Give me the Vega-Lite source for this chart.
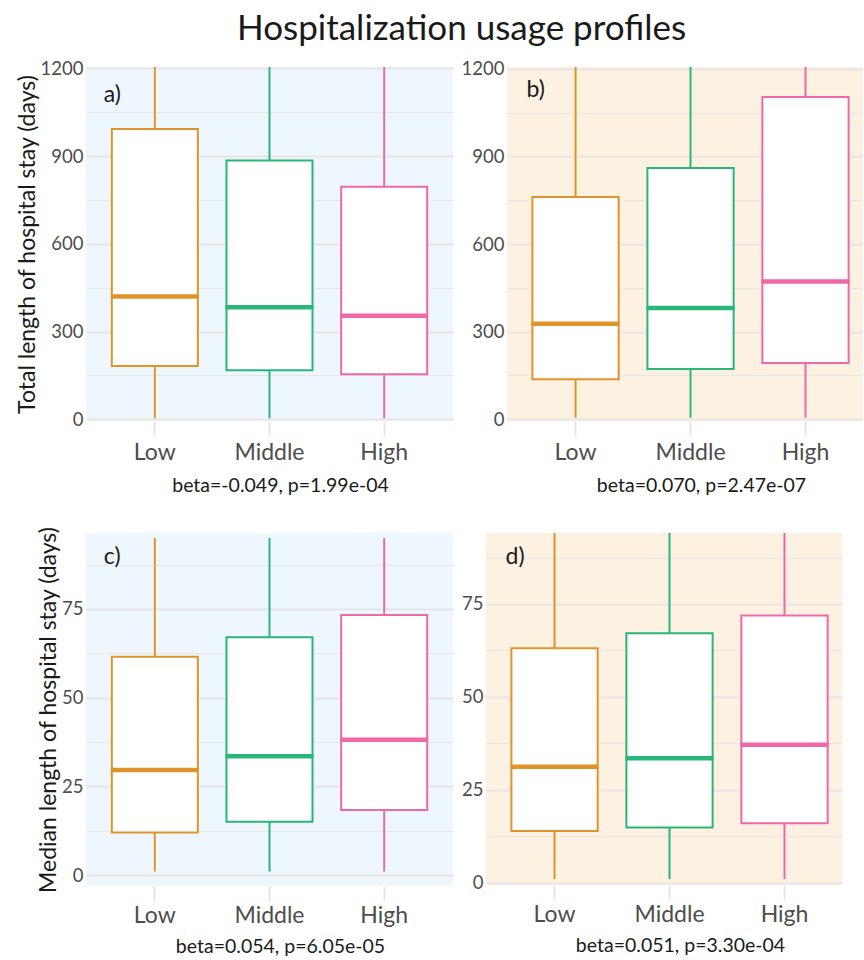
{
  "$schema": "https://vega.github.io/schema/vega-lite/v6.json",
  "padding": {"left": 16, "top": 12, "right": 0, "bottom": 0},
  "title": {"text": "Hospitalization usage profiles", "fontSize": 35, "fontWeight": "normal", "color": "#1a1a1a", "anchor": "middle", "offset": 12, "dx": 22},
  "datasets": {
    "boxes": [
      {"panel": "a", "tag": "a)", "group": "Low", "lower": 3, "q1": 182, "median": 420, "q3": 993, "upper": 1205},
      {"panel": "a", "tag": "a)", "group": "Middle", "lower": 3, "q1": 168, "median": 383, "q3": 885, "upper": 1205},
      {"panel": "a", "tag": "a)", "group": "High", "lower": 3, "q1": 154, "median": 354, "q3": 795, "upper": 1205},
      {"panel": "b", "tag": "b)", "group": "Low", "lower": 5, "q1": 137, "median": 327, "q3": 761, "upper": 1206},
      {"panel": "b", "tag": "b)", "group": "Middle", "lower": 5, "q1": 172, "median": 381, "q3": 860, "upper": 1206},
      {"panel": "b", "tag": "b)", "group": "High", "lower": 5, "q1": 193, "median": 472, "q3": 1103, "upper": 1206},
      {"panel": "c", "tag": "c)", "group": "Low", "lower": 1, "q1": 12.0, "median": 29.6, "q3": 61.5, "upper": 95},
      {"panel": "c", "tag": "c)", "group": "Middle", "lower": 1, "q1": 15.0, "median": 33.5, "q3": 67.0, "upper": 95},
      {"panel": "c", "tag": "c)", "group": "High", "lower": 1, "q1": 18.3, "median": 38.1, "q3": 73.3, "upper": 95},
      {"panel": "d", "tag": "d)", "group": "Low", "lower": 1, "q1": 13.9, "median": 31.2, "q3": 63.1, "upper": 95},
      {"panel": "d", "tag": "d)", "group": "Middle", "lower": 1, "q1": 14.9, "median": 33.5, "q3": 67.1, "upper": 95},
      {"panel": "d", "tag": "d)", "group": "High", "lower": 1, "q1": 16.0, "median": 37.1, "q3": 71.9, "upper": 95}
    ]
  },
  "vconcat": [
    {
      "hconcat": [
        {
          "width": 367, "height": 354,
          "view": {"fill": "#EEF7FD", "stroke": null},
          "data": {"name": "boxes"},
          "transform": [{"filter": "datum.panel === 'a'"}],
          "encoding": {
            "x": {"field": "group", "type": "nominal", "sort": ["Low", "Middle", "High"],
                  "scale": {"paddingInner": 0, "paddingOuter": 0.1, "align": 0.5},
                  "axis": {"title": "beta=-0.049, p=1.99e-04"}}
          },
          "layer": [
            {"mark": {"type": "rule", "strokeWidth": 2, "clip": true},
             "encoding": {
               "y": {"field": "lower", "type": "quantitative",
                     "scale": {"domain": [-6, 1205], "nice": false, "zero": false},
                     "axis": {"values": [0, 150, 300, 450, 600, 750, 900, 1050, 1200], "format": "d",
                              "labelExpr": "datum.value % 300 === 0 ? datum.label : ''",
                              "gridWidth": {"condition": {"test": "datum.value % 300 === 0", "value": 2.2}, "value": 1.2},
                              "title": "Total length of hospital stay (days)"}},
               "y2": {"field": "upper"},
               "color": {"field": "group", "type": "nominal", "scale": {"domain": ["Low", "Middle", "High"], "range": ["#DF9429", "#2AB57B", "#EE69A7"]}, "legend": null}
             }},
            {"mark": {"type": "bar", "fill": "white", "strokeWidth": 2, "width": {"band": 0.75}},
             "encoding": {
               "y": {"field": "q1", "type": "quantitative"},
               "y2": {"field": "q3"},
               "stroke": {"field": "group", "type": "nominal", "scale": {"domain": ["Low", "Middle", "High"], "range": ["#DF9429", "#2AB57B", "#EE69A7"]}, "legend": null}
             }},
            {"mark": {"type": "tick", "thickness": 4.5, "size": 88, "opacity": 1},
             "encoding": {
               "y": {"field": "median", "type": "quantitative"},
               "color": {"field": "group", "type": "nominal", "legend": null}
             }},
            {"transform": [{"filter": "datum.group === 'Low'"}],
             "mark": {"type": "text", "fontSize": 23, "color": "#1a1a1a", "align": "left", "baseline": "middle", "dx": -51},
             "encoding": {
               "x": {"datum": "Low"},
               "y": {"datum": 1109, "type": "quantitative"},
               "text": {"field": "tag"}
             }}
          ]
        },
        {
          "width": 356, "height": 354,
          "view": {"fill": "#FDF1E1", "stroke": null},
          "data": {"name": "boxes"},
          "transform": [{"filter": "datum.panel === 'b'"}],
          "encoding": {
            "x": {"field": "group", "type": "nominal", "sort": ["Low", "Middle", "High"],
                  "scale": {"paddingInner": 0, "paddingOuter": 0.048, "align": 1},
                  "axis": {"title": "beta=0.070, p=2.47e-07"}}
          },
          "layer": [
            {"mark": {"type": "rule", "strokeWidth": 2, "clip": true},
             "encoding": {
               "y": {"field": "lower", "type": "quantitative",
                     "scale": {"domain": [-6, 1206], "nice": false, "zero": false},
                     "axis": {"values": [0, 150, 300, 450, 600, 750, 900, 1050, 1200], "format": "d",
                              "labelExpr": "datum.value % 300 === 0 ? datum.label : ''",
                              "gridWidth": {"condition": {"test": "datum.value % 300 === 0", "value": 2.2}, "value": 1.2},
                              "title": null}},
               "y2": {"field": "upper"},
               "color": {"field": "group", "type": "nominal", "legend": null}
             }},
            {"mark": {"type": "bar", "fill": "white", "strokeWidth": 2, "width": {"band": 0.75}},
             "encoding": {
               "y": {"field": "q1", "type": "quantitative"},
               "y2": {"field": "q3"},
               "stroke": {"field": "group", "type": "nominal", "legend": null}
             }},
            {"mark": {"type": "tick", "thickness": 4.5, "size": 88, "opacity": 1},
             "encoding": {
               "y": {"field": "median", "type": "quantitative"},
               "color": {"field": "group", "type": "nominal", "legend": null}
             }},
            {"transform": [{"filter": "datum.group === 'Low'"}],
             "mark": {"type": "text", "fontSize": 23, "color": "#1a1a1a", "align": "left", "baseline": "middle", "dx": -49},
             "encoding": {
               "x": {"datum": "Low"},
               "y": {"datum": 1128, "type": "quantitative"},
               "text": {"field": "tag"}
             }}
          ]
        }
      ],
      "spacing": 8
    },
    {
      "hconcat": [
        {
          "width": 367, "height": 353,
          "view": {"fill": "#EEF7FD", "stroke": null},
          "data": {"name": "boxes"},
          "transform": [{"filter": "datum.panel === 'c'"}],
          "encoding": {
            "x": {"field": "group", "type": "nominal", "sort": ["Low", "Middle", "High"],
                  "scale": {"paddingInner": 0, "paddingOuter": 0.1, "align": 0.5},
                  "axis": {"title": "beta=0.054, p=6.05e-05", "labelPadding": 3, "titlePadding": 10}}
          },
          "layer": [
            {"mark": {"type": "rule", "strokeWidth": 2, "clip": true},
             "encoding": {
               "y": {"field": "lower", "type": "quantitative",
                     "scale": {"domain": [-3.1, 96.4], "nice": false, "zero": false},
                     "axis": {"values": [0, 12.5, 25, 37.5, 50, 62.5, 75, 87.5], "format": "d",
                              "labelExpr": "datum.value % 25 === 0 ? datum.label : ''",
                              "gridWidth": {"condition": {"test": "datum.value % 25 === 0", "value": 2.2}, "value": 1.2},
                              "title": "Median length of hospital stay (days)"}},
               "y2": {"field": "upper"},
               "color": {"field": "group", "type": "nominal", "legend": null}
             }},
            {"mark": {"type": "bar", "fill": "white", "strokeWidth": 2, "width": {"band": 0.75}},
             "encoding": {
               "y": {"field": "q1", "type": "quantitative"},
               "y2": {"field": "q3"},
               "stroke": {"field": "group", "type": "nominal", "legend": null}
             }},
            {"mark": {"type": "tick", "thickness": 4.5, "size": 88, "opacity": 1},
             "encoding": {
               "y": {"field": "median", "type": "quantitative"},
               "color": {"field": "group", "type": "nominal", "legend": null}
             }},
            {"transform": [{"filter": "datum.group === 'Low'"}],
             "mark": {"type": "text", "fontSize": 23, "color": "#1a1a1a", "align": "left", "baseline": "middle", "dx": -51},
             "encoding": {
               "x": {"datum": "Low"},
               "y": {"datum": 89.7, "type": "quantitative"},
               "text": {"field": "tag"}
             }}
          ]
        },
        {
          "width": 356, "height": 352,
          "view": {"fill": "#FDF1E1", "stroke": null},
          "data": {"name": "boxes"},
          "transform": [{"filter": "datum.panel === 'd'"}],
          "encoding": {
            "x": {"field": "group", "type": "nominal", "sort": ["Low", "Middle", "High"],
                  "scale": {"paddingInner": 0, "paddingOuter": 0.048, "align": 1},
                  "axis": {"title": "beta=0.051, p=3.30e-04", "labelPadding": 3, "titlePadding": 10}}
          },
          "layer": [
            {"mark": {"type": "rule", "strokeWidth": 2, "clip": true},
             "encoding": {
               "y": {"field": "lower", "type": "quantitative",
                     "scale": {"domain": [-0.6, 94.1], "nice": false, "zero": false},
                     "axis": {"values": [0, 12.5, 25, 37.5, 50, 62.5, 75, 87.5], "format": "d",
                              "labelExpr": "datum.value % 25 === 0 ? datum.label : ''",
                              "gridWidth": {"condition": {"test": "datum.value % 25 === 0", "value": 2.2}, "value": 1.2},
                              "title": null}},
               "y2": {"field": "upper"},
               "color": {"field": "group", "type": "nominal", "legend": null}
             }},
            {"mark": {"type": "bar", "fill": "white", "strokeWidth": 2, "width": {"band": 0.75}},
             "encoding": {
               "y": {"field": "q1", "type": "quantitative"},
               "y2": {"field": "q3"},
               "stroke": {"field": "group", "type": "nominal", "legend": null}
             }},
            {"mark": {"type": "tick", "thickness": 4.5, "size": 88, "opacity": 1},
             "encoding": {
               "y": {"field": "median", "type": "quantitative"},
               "color": {"field": "group", "type": "nominal", "legend": null}
             }},
            {"transform": [{"filter": "datum.group === 'Low'"}],
             "mark": {"type": "text", "fontSize": 23, "color": "#1a1a1a", "align": "left", "baseline": "middle", "dx": -49},
             "encoding": {
               "x": {"datum": "Low"},
               "y": {"datum": 87.7, "type": "quantitative"},
               "text": {"field": "tag"}
             }}
          ]
        }
      ],
      "spacing": 8
    }
  ],
  "spacing": 31,
  "config": {
    "font": "Lato",
    "view": {"stroke": null},
    "axisY": {"ticks": false, "domain": false, "labelPadding": 3, "labelColor": "#4d4d4d", "labelFontSize": 18.5,
              "labelFlush": false, "gridColor": "#E6E6E6", "titleFontSize": 23, "titleFontWeight": "normal",
              "titleColor": "#1a1a1a", "titlePadding": 1},
    "axisX": {"labelFontSize": 23, "labelColor": "#4d4d4d", "labelAngle": 0, "labelPadding": 5, "tickColor": "#E6E6E6",
              "tickWidth": 2, "tickSize": 15, "domain": false, "grid": false, "titleFontSize": 19.5,
              "titleFontWeight": "normal", "titleColor": "#1a1a1a", "titlePadding": 12, "titleX": 194}
  }
}
